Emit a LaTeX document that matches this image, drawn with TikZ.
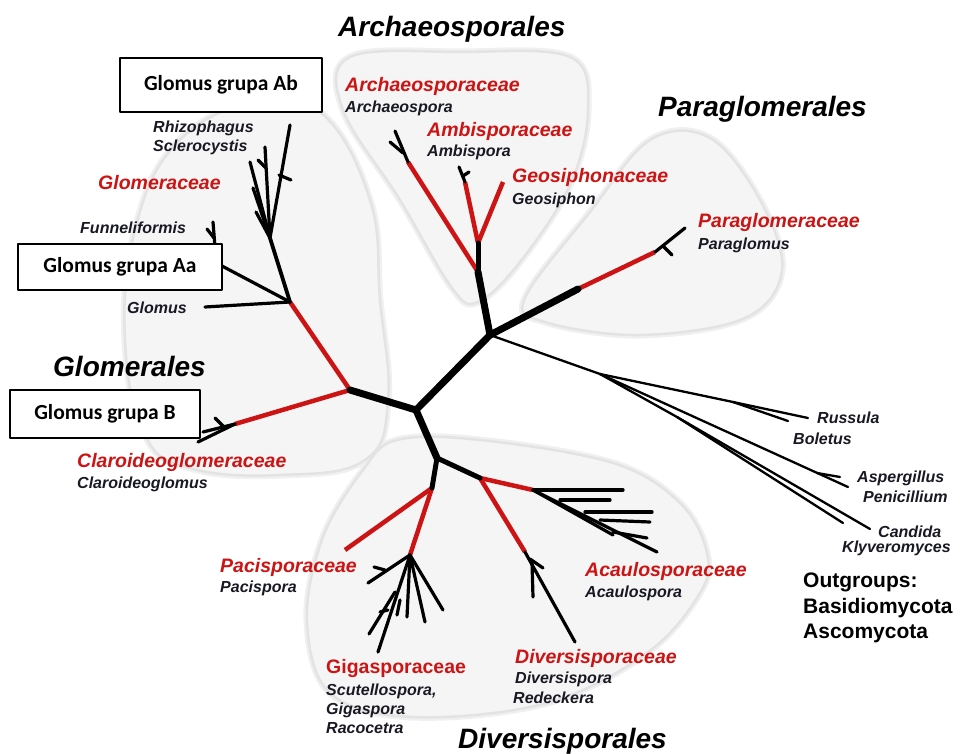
\documentclass[tikz,border=0pt]{standalone}
\usepackage{fontspec}
\setmainfont{Liberation Sans}
\newfontfamily\boxfont{Carlito}
\definecolor{fred}{RGB}{204,20,20}
\definecolor{lblk}{RGB}{25,25,35}
\begin{document}
\begin{tikzpicture}[x=1pt,y=-1pt,line join=round]
\tikzset{
 blobshade/.style={draw=black!6, line width=7pt},
 blob/.style={fill=black!4, draw=black!11, line width=2.5pt},
 thk/.style={line width=7pt, line cap=round},
 mid/.style={line width=5pt, line cap=round},
 redl/.style={fred, line width=4.5pt},
 br/.style={line width=3.2pt, line cap=round},
 tw/.style={line width=2.3pt, line cap=round},
 fam/.style={anchor=base west, inner sep=0, text=fred, font=\bfseries\itshape\fontsize{19.5}{22}\selectfont},
 famu/.style={anchor=base west, inner sep=0, text=fred, font=\bfseries\fontsize{19.5}{22}\selectfont},
 gen/.style={anchor=base west, inner sep=0, text=lblk, font=\bfseries\itshape\fontsize{16}{18}\selectfont},
 ordr/.style={anchor=base west, inner sep=0, font=\bfseries\itshape\fontsize{28}{32}\selectfont},
 grp/.style={draw, line width=1.4pt, fill=white, inner sep=0, font=\boxfont\bfseries\fontsize{21.5}{24}\selectfont},
 outg/.style={anchor=base west, inner sep=0, font=\bfseries\fontsize{21}{24}\selectfont}
}
\fill[white] (0,0) rectangle (962,754);
\useasboundingbox (0,0) rectangle (962,754);

% ---------- background blobs ----------
\def\blobG{plot[smooth cycle, tension=0.7] coordinates {(250,103) (320,112) (370,200) (380,300) (388,400) (365,460) (280,475) (190,468) (145,435) (125,340) (135,230) (175,145)}}
\def\blobA{plot[smooth cycle, tension=0.6] coordinates {(350,57) (460,52) (570,57) (588,110) (570,185) (520,262) (478,302) (452,288) (400,200) (343,110)}}
\def\blobP{plot[smooth cycle, tension=0.6] coordinates {(525,298) (590,212) (650,140) (710,138) (760,200) (782,270) (745,318) (640,335) (545,322)}}
\def\blobD{plot[smooth cycle, tension=0.6] coordinates {(397,440) (480,440) (613,463) (680,503) (707,553) (700,593) (647,653) (547,703) (413,717) (330,693) (307,620) (323,537) (363,470)}}
\draw[blobshade] \blobG; \draw[blobshade] \blobA; \draw[blobshade] \blobP; \draw[blobshade] \blobD;
\draw[blob] \blobG; \draw[blob] \blobA; \draw[blob] \blobP; \draw[blob] \blobD;

% ---------- coordinates ----------
\coordinate (C) at (416,410);
\coordinate (G) at (350,390);
\coordinate (A) at (490,335);
\coordinate (D) at (437,458);
% Glomerales
\coordinate (GA) at (290,302);
\coordinate (F) at (270,238);
\coordinate (rh1) at (290,125);
\coordinate (rh2) at (265,147);
\coordinate (rh3) at (250,162);
\coordinate (rh4) at (253,188);
\coordinate (rh5) at (256,212);
\coordinate (rt1) at (279,175);
\coordinate (rt2) at (291,180);
\coordinate (rt3) at (266,168);
\coordinate (rt4) at (258,160);
\coordinate (gl) at (205,307);
\coordinate (aa) at (205,257);
\coordinate (fu1) at (215,247);
\coordinate (fu2) at (213,222);
\coordinate (fu3) at (207,229);
\coordinate (fu4) at (214,238);
\coordinate (GB) at (235,424);
\coordinate (cl1) at (198,442);
\coordinate (cl2) at (203,432);
\coordinate (cl3) at (224,427);
\coordinate (cl4) at (215,418);
% Archaeosporales
\coordinate (AR) at (478,272);
\coordinate (AF) at (478,243);
\coordinate (ar1) at (408,162);
\coordinate (ar2) at (395,131);
\coordinate (ar3) at (403,153);
\coordinate (ar4) at (390,142);
\coordinate (am1) at (465,182);
\coordinate (am2) at (459,167);
\coordinate (am3) at (463,176);
\coordinate (am4) at (469,172);
\coordinate (ge) at (503,182);
% Paraglomerales
\coordinate (P1) at (578,289);
\coordinate (P2) at (655,252);
\coordinate (pa1) at (685,228);
\coordinate (pa2) at (664,247);
\coordinate (pa3) at (672,255);
% Outgroups
\coordinate (O1) at (600,374);
\coordinate (R1) at (733,402);
\coordinate (ru) at (808,418);
\coordinate (bo) at (788,421);
\coordinate (as) at (848,487);
\coordinate (asf) at (817,473);
\coordinate (pe) at (840,477);
\coordinate (O2) at (677,417);
\coordinate (ca) at (870,529);
\coordinate (kl) at (843,523);
% Diversisporales
\coordinate (D1) at (432,488);
\coordinate (pc) at (345,550);
\coordinate (D2) at (410,555);
\coordinate (gi1) at (368,583);
\coordinate (gi2) at (378,652);
\coordinate (gi3) at (395,592);
\coordinate (gi4) at (369,634);
\coordinate (gi5) at (407,617);
\coordinate (gi6) at (425,622);
\coordinate (gi7) at (443,610);
\coordinate (gi8) at (385,570);
\coordinate (gi9) at (374,567);
\coordinate (gi10) at (388,610);
\coordinate (gi11) at (380,612);
\coordinate (gi12) at (400,600);
\coordinate (gi13) at (397,615);
\coordinate (D3) at (480,478);
\coordinate (D4) at (533,490);
\coordinate (D5) at (525,552);
\coordinate (ac1) at (623,490);
\coordinate (ac2) at (613,535);
\coordinate (ac3) at (657,552);
\coordinate (ac4) at (585,512);
\coordinate (ac5) at (652,512);
\coordinate (ac6) at (600,520);
\coordinate (ac7) at (650,522);
\coordinate (ac8) at (613,532);
\coordinate (ac9) at (647,538);
\coordinate (ac10) at (560,500);
\coordinate (ac11) at (610,500);
\coordinate (dv1) at (575,642);
\coordinate (dv2) at (532,562);
\coordinate (dv3) at (533,597);
\coordinate (dv4) at (530,559);
\coordinate (dv5) at (543,568);

% ---------- tree ----------
% red family branches
\draw[redl] (G) -- (GA);
\draw[redl] (G) -- (GB);
\draw[redl] (AR) -- (ar1);
\draw[redl] (AF) -- (am1);
\draw[redl] (AF) -- (ge);
\draw[redl] (P1) -- (P2);
\draw[redl] (D1) -- (pc);
\draw[redl] (D1) -- (D2);
\draw[redl] (D3) -- (D4);
\draw[redl] (D3) -- (D5);

% backbone
\draw[thk] (G) -- (C) -- (A);
\draw[thk] (C) -- (D);
\draw[thk] (A) -- (AR);
\draw[mid] (AR) -- (AF);
\draw[thk] (A) -- (P1);
\draw[mid] (D) -- (D1);
\draw[mid] (D) -- (D3);

% Glomeraceae
\draw[br] (GA) -- (gl);
\draw[br] (GA) -- (aa);
\draw[line width=3.8pt, line cap=round] (GA) -- (F);
\draw[br] (F) -- (rh1);
\draw[br] (F) -- (rh2);
\draw[br] (F) -- (rh3);
\draw[br] (F) -- (rh4);
\draw[br] (F) -- (rh5);
\draw[br] (rt1) -- (rt2);
\draw[br] (rt3) -- (rt4);
\draw[br] (fu1) -- (fu2);
\draw[br] (fu3) -- (fu4);
% Claroideoglomeraceae
\draw[br] (GB) -- (cl1);
\draw[br] (GB) -- (cl2);
\draw[br] (cl3) -- (cl4);
% Archaeosporales tips
\draw[br] (ar1) -- (ar2);
\draw[br] (ar3) -- (ar4);
\draw[br] (am1) -- (am2);
\draw[br] (am3) -- (am4);
% Paraglomerales tips
\draw[br] (P2) -- (pa1);
\draw[br] (pa2) -- (pa3);
% Outgroups
\draw[tw] (A) -- (O1);
\draw[tw] (O1) -- (R1) -- (ru);
\draw[tw] (R1) -- (bo);
\draw[tw] (O1) -- (as);
\draw[tw] (asf) -- (pe);
\draw[tw] (O1) -- (O2) -- (ca);
\draw[tw] (O2) -- (kl);
% Gigasporaceae
\draw[br] (D2) -- (gi1);
\draw[br] (D2) -- (gi2);
\draw[br] (gi3) -- (gi4);
\draw[br] (D2) -- (gi5);
\draw[br] (D2) -- (gi6);
\draw[br] (D2) -- (gi7);
\draw[br] (gi8) -- (gi9);
\draw[br] (gi10) -- (gi11);
\draw[br] (gi12) -- (gi13);
% Acaulosporaceae
\draw[br] (D4) -- (ac1);
\draw[br] (D4) -- (ac2);
\draw[br] (D4) -- (ac3);
\draw[br] (ac4) -- (ac5);
\draw[br] (ac6) -- (ac7);
\draw[br] (ac8) -- (ac9);
\draw[br] (ac10) -- (ac11);
% Diversisporaceae
\draw[br] (D5) -- (dv1);
\draw[br] (dv2) -- (dv3);
\draw[br] (dv4) -- (dv5);

% ---------- order titles ----------
\node[ordr] (tArch) at (338,37) {Archaeosporales};
\node[ordr] (tPara) at (658,117) {Paraglomerales};
\node[ordr] (tGlom) at (53,377) {Glomerales};
\node[ordr] (tDiv) at (458,748) {Diversisporales};

% ---------- family labels ----------
\node[fam] (fGlo) at (98,190) {Glomeraceae};
\node[fam] (fCla) at (77,467) {Claroideoglomeraceae};
\node[fam] (fArc) at (345,92) {Archaeosporaceae};
\node[fam] (fAmb) at (427,137) {Ambisporaceae};
\node[fam] (fGeo) at (512,183) {Geosiphonaceae};
\node[fam] (fPar) at (698,228) {Paraglomeraceae};
\node[fam] (fPac) at (220,572) {Pacisporaceae};
\node[famu] (fGig) at (326,673) {Gigasporaceae};
\node[fam] (fAca) at (585,576) {Acaulosporaceae};
\node[fam] (fDiv) at (515,663) {Diversisporaceae};

% ---------- genus labels ----------
\node[gen] (nRhi) at (153,133) {Rhizophagus};
\node[gen] (nScl) at (153,152) {Sclerocystis};
\node[gen] (nFun) at (80,234) {Funneliformis};
\node[gen] (nGlo) at (127,313) {Glomus};
\node[gen] (nCla) at (77,488) {Claroideoglomus};
\node[gen] (nArc) at (345,113) {Archaeospora};
\node[gen] (nAmb) at (427,157) {Ambispora};
\node[gen] (nGeo) at (512,205) {Geosiphon};
\node[gen] (nPar) at (698,250) {Paraglomus};
\node[gen] (nRus) at (817,423) {Russula};
\node[gen] (nBol) at (793,444) {Boletus};
\node[gen] (nAsp) at (857,482) {Aspergillus};
\node[gen] (nPen) at (863,502) {Penicillium};
\node[gen] (nCan) at (878,537) {Candida};
\node[gen] (nKly) at (842,552) {Klyveromyces};
\node[gen] (nAca) at (585,597) {Acaulospora};
\node[gen] (nDiv) at (515,683) {Diversispora};
\node[gen] (nRed) at (513,703) {Redeckera};
\node[gen] (nPac) at (220,592) {Pacispora};
\node[gen] (nScu) at (326,695) {Scutellospora,};
\node[gen] (nGig) at (326,714) {Gigaspora};
\node[gen] (nRac) at (326,733) {Racocetra};

% ---------- outgroups ----------
\node[outg] (og1) at (803,587) {Outgroups:};
\node[outg] (og2) at (803,613) {Basidiomycota};
\node[outg] (og3) at (803,638) {Ascomycota};

% ---------- group boxes ----------
\node[grp, minimum width=202pt, minimum height=54pt] (bAb) at (221,85) {Glomus grupa Ab};
\node[grp, minimum width=204pt, minimum height=46pt] (bAa) at (120,267) {Glomus grupa Aa};
\node[grp, minimum width=190pt, minimum height=48pt] (bB) at (105,414) {Glomus grupa B};
\end{tikzpicture}
\end{document}
